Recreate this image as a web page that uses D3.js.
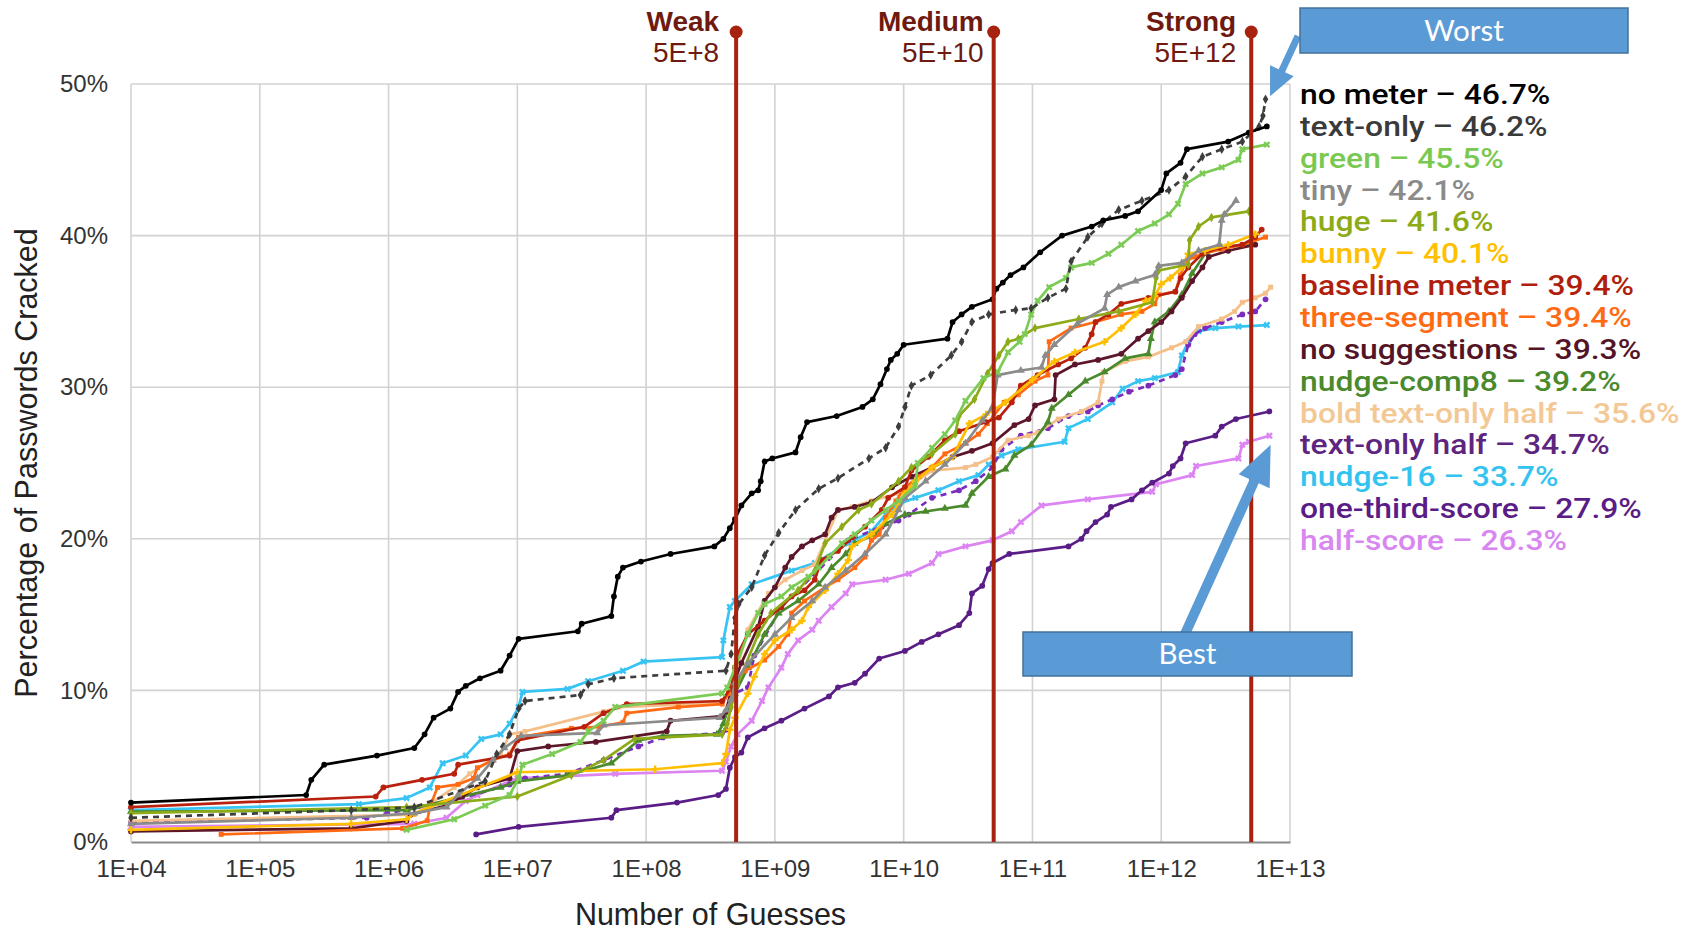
<!DOCTYPE html>
<html>
<head>
<meta charset="utf-8">
<script src="https://cdn.jsdelivr.net/npm/d3@7"></script>
<style>
  html, body { margin: 0; padding: 0; background: #fff; overflow: hidden; }
  svg { display: block; font-family: 'Liberation Sans', Arial, sans-serif; }
</style>
</head>
<body>
<svg id="chart" width="1694" height="931"></svg>
<script>
// each point: [log10(guesses), percent cracked]
const noMeter = [[4,2.6],[5.36,3.1],[5.40,4.1],[5.50,5.1],[5.91,5.7],[6.2,6.2],[6.28,7.1],[6.35,8.2],[6.48,8.8],[6.54,9.9],[6.6,10.3],[6.71,10.8],[6.87,11.3],[6.94,12.3],[7.01,13.4],[7.47,13.9],[7.50,14.4],[7.73,14.9],[7.75,16.2],[7.78,17.5],[7.82,18.1],[7.96,18.5],[8.19,19.0],[8.53,19.5],[8.6,20.0],[8.65,20.7],[8.69,21.3],[8.74,22.2],[8.82,23.0],[8.87,23.2],[8.89,23.8],[8.92,25.1],[8.98,25.3],[9.16,25.7],[9.2,26.7],[9.25,27.7],[9.48,28.1],[9.68,28.7],[9.76,29.2],[9.82,30.2],[9.87,31.2],[9.9,31.8],[9.95,32.2],[10.0,32.8],[10.34,33.2],[10.38,34.3],[10.45,34.8],[10.53,35.3],[10.69,35.8],[10.72,36.5],[10.77,36.9],[10.83,37.4],[10.93,37.9],[11.06,38.9],[11.23,40.0],[11.46,40.6],[11.55,41.0],[11.72,41.3],[11.82,41.6],[12.0,43.0],[12.04,44.1],[12.15,44.8],[12.2,45.7],[12.52,46.2],[12.68,46.8],[12.82,47.2]];
const textOnly = [[4,1.6],[5.71,2.1],[6.2,2.3],[6.75,4.0],[6.84,5.8],[6.94,7.1],[7.01,8.8],[7.06,9.3],[7.49,9.7],[7.55,10.4],[7.75,10.8],[8.62,11.3],[8.66,12.4],[8.69,14.8],[8.72,15.7],[8.82,16.8],[8.92,18.9],[9.03,20.4],[9.16,21.9],[9.34,23.3],[9.49,24.0],[9.73,25.3],[9.86,26.0],[9.96,27.4],[10.01,28.7],[10.06,30.1],[10.21,30.8],[10.37,32.1],[10.45,33.0],[10.53,34.3],[10.66,34.8],[10.87,35.1],[10.99,35.2],[11.12,35.9],[11.26,36.5],[11.3,38.3],[11.43,39.9],[11.54,40.8],[11.67,41.7],[11.85,42.3],[12.06,43.0],[12.19,43.9],[12.32,45.2],[12.47,45.7],[12.63,46.2],[12.76,47.2],[12.79,47.9],[12.81,49.0]];
const green = [[6.14,0.8],[6.51,1.5],[6.75,2.4],[6.94,3.1],[7.01,4.2],[7.04,5.1],[7.27,5.8],[7.49,6.6],[7.55,7.3],[7.67,8.0],[7.76,8.9],[8.59,9.8],[8.63,10.2],[8.69,11.5],[8.79,13.7],[8.87,15.1],[8.92,15.7],[9.05,16.2],[9.13,16.8],[9.26,17.5],[9.34,18.1],[9.42,18.8],[9.52,19.7],[9.62,20.3],[9.75,21.2],[9.86,21.9],[9.96,22.5],[10.09,23.5],[10.11,25.0],[10.22,26.0],[10.32,26.9],[10.4,27.8],[10.48,29.1],[10.62,30.6],[10.73,31.0],[10.81,32.3],[10.9,33.0],[10.94,33.5],[10.99,34.8],[11.04,35.7],[11.13,36.6],[11.26,37.2],[11.3,37.9],[11.46,38.2],[11.59,38.8],[11.69,39.4],[11.82,40.3],[11.95,40.8],[12.06,41.4],[12.13,42.1],[12.19,43.4],[12.32,44.1],[12.47,44.5],[12.6,45.0],[12.63,45.7],[12.82,46.0]];
const tiny = [[4,1.2],[5.71,1.6],[6.2,1.9],[6.45,2.3],[6.54,3.1],[6.69,4.2],[6.81,5.4],[6.9,6.2],[7.03,7.0],[7.62,7.2],[7.67,7.7],[8.57,8.2],[8.62,8.7],[8.66,9.4],[8.69,10.5],[8.79,11.8],[9.0,13.7],[9.13,14.8],[9.29,15.9],[9.39,16.8],[9.55,17.9],[9.7,19.0],[9.86,20.3],[9.96,21.9],[10.01,22.7],[10.17,23.8],[10.32,24.9],[10.48,26.3],[10.61,27.8],[10.69,28.7],[10.73,30.8],[10.91,31.1],[11.07,31.3],[11.1,32.1],[11.17,32.8],[11.35,34.2],[11.56,35.2],[11.58,36.1],[11.67,36.6],[11.8,37.0],[11.95,37.4],[11.98,38.0],[12.16,38.2],[12.29,39.0],[12.45,39.4],[12.47,41.0],[12.49,41.4],[12.58,42.3]];
const huge = [[4,1.9],[6.14,2.3],[7.0,3.0],[7.42,4.4],[7.67,5.4],[7.91,6.8],[8.59,7.1],[8.63,7.8],[8.66,8.9],[8.71,10.4],[8.87,13.7],[8.97,15.1],[9.18,16.6],[9.31,17.9],[9.39,19.7],[9.52,20.8],[9.65,21.9],[9.75,22.3],[9.96,23.8],[10.06,24.7],[10.22,25.6],[10.4,26.9],[10.43,28.1],[10.55,29.2],[10.65,30.9],[10.74,32.1],[10.81,33.0],[10.89,33.2],[11.02,33.9],[11.36,34.5],[11.67,35.0],[11.93,35.6],[11.96,37.2],[11.98,37.7],[12.21,38.1],[12.22,39.7],[12.29,40.6],[12.39,41.2],[12.68,41.6]];
const bunny = [[4,0.8],[5.71,1.2],[6.14,1.5],[6.2,1.9],[7.0,4.6],[8.07,4.8],[8.59,5.2],[8.62,5.8],[8.65,7.4],[8.69,8.2],[8.79,9.8],[8.84,10.9],[8.92,12.4],[9.0,13.3],[9.13,14.0],[9.21,14.6],[9.26,15.5],[9.39,16.6],[9.49,17.7],[9.57,18.6],[9.6,19.5],[9.75,20.3],[9.91,21.6],[10.01,23.0],[10.09,23.8],[10.22,24.7],[10.38,25.4],[10.51,27.6],[10.64,28.2],[10.79,29.0],[11.0,30.5],[11.17,31.7],[11.33,32.3],[11.56,33.0],[11.69,33.9],[11.8,34.8],[11.88,35.7],[11.95,36.0],[12.0,36.8],[12.07,37.2],[12.16,37.9],[12.21,38.8],[12.34,39.0],[12.52,39.4],[12.73,40.1]];
const baseline = [[4,2.3],[5.9,3.0],[5.96,3.6],[6.26,4.1],[6.51,4.5],[6.54,5.1],[6.94,5.7],[7.0,6.7],[7.52,7.6],[7.67,8.5],[7.85,9.1],[8.59,9.3],[8.66,10.2],[8.69,11.5],[8.71,12.4],[8.79,13.7],[8.92,14.6],[9.05,15.5],[9.13,16.2],[9.23,16.6],[9.31,17.3],[9.36,18.6],[9.49,19.2],[9.6,20.1],[9.7,20.8],[9.83,21.9],[9.88,22.7],[10.01,23.4],[10.06,24.5],[10.19,25.4],[10.32,26.5],[10.43,27.1],[10.64,27.7],[10.74,28.0],[10.84,29.0],[10.91,30.1],[11.04,30.8],[11.2,31.5],[11.3,31.9],[11.41,32.6],[11.46,33.5],[11.49,34.3],[11.59,34.8],[11.69,35.5],[11.9,35.9],[12.11,36.3],[12.15,37.2],[12.21,37.9],[12.32,38.8],[12.45,39.2],[12.63,39.4],[12.73,39.9],[12.78,40.4]];
const threeSegment = [[4.7,0.5],[6.11,0.9],[6.3,1.4],[6.32,2.3],[6.38,3.6],[6.54,3.8],[6.66,4.2],[6.69,4.9],[6.81,5.4],[6.94,5.8],[7.01,6.9],[7.42,7.5],[7.64,7.6],[7.82,7.9],[7.85,8.5],[8.25,8.9],[8.59,9.1],[8.64,9.8],[8.69,10.7],[8.77,11.3],[8.92,12.0],[9.03,12.9],[9.1,13.7],[9.13,15.1],[9.23,15.9],[9.39,16.8],[9.49,17.3],[9.62,18.1],[9.7,18.8],[9.75,19.9],[9.81,20.3],[9.86,21.4],[9.94,22.5],[10.01,23.4],[10.12,24.1],[10.22,24.7],[10.32,25.6],[10.48,26.3],[10.58,26.9],[10.65,27.6],[10.78,29.0],[10.89,29.5],[11.02,30.4],[11.12,30.8],[11.13,33.0],[11.3,33.9],[11.49,34.3],[11.69,34.8],[11.85,35.0],[11.95,35.5],[11.98,36.1],[12.11,36.3],[12.15,37.4],[12.19,38.3],[12.26,38.6],[12.32,38.8],[12.47,39.1],[12.63,39.4],[12.81,39.9]];
const noSuggestions = [[4,0.7],[5.71,0.9],[6.14,1.4],[6.17,1.8],[6.45,2.4],[6.57,3.0],[6.69,3.6],[6.94,4.2],[7.0,6.0],[7.24,6.3],[7.61,6.6],[8.16,7.3],[8.19,8.0],[8.59,8.3],[8.62,8.6],[8.66,10.0],[8.74,11.8],[8.87,14.2],[8.92,15.9],[9.0,16.8],[9.08,18.1],[9.13,18.8],[9.21,19.5],[9.29,19.9],[9.39,20.3],[9.44,21.4],[9.49,21.9],[9.62,22.1],[9.75,22.4],[9.91,23.4],[10.06,24.1],[10.22,24.7],[10.38,25.4],[10.53,25.8],[10.69,26.3],[10.86,27.5],[10.97,27.9],[11.02,28.8],[11.17,29.2],[11.18,30.8],[11.33,31.5],[11.51,31.8],[11.69,32.2],[11.82,33.2],[11.9,33.7],[12.0,34.3],[12.08,35.0],[12.16,35.9],[12.24,37.0],[12.32,37.9],[12.37,38.6],[12.52,39.0],[12.73,39.4]];
const nudgeComp8 = [[4,2.0],[6.14,2.1],[6.87,3.6],[7.0,4.0],[7.39,4.4],[7.73,5.2],[7.94,6.7],[8.13,7.0],[8.55,7.1],[8.6,7.8],[8.64,8.9],[8.69,9.8],[8.79,11.5],[8.92,13.7],[9.03,15.1],[9.18,15.9],[9.34,17.0],[9.44,18.1],[9.55,19.0],[9.62,19.7],[9.78,20.3],[9.86,21.0],[10.01,21.6],[10.17,21.8],[10.32,22.0],[10.48,22.2],[10.53,23.0],[10.66,24.1],[10.79,24.6],[10.86,25.5],[10.99,26.2],[11.12,27.7],[11.15,28.6],[11.28,29.5],[11.41,30.4],[11.56,31.0],[11.72,31.9],[11.9,32.2],[11.92,33.2],[11.95,34.3],[12.06,35.0],[12.16,36.1],[12.24,37.5],[12.34,38.8],[12.47,39.2],[12.68,39.4]];
const boldTextHalf = [[4,1.4],[6.2,1.8],[6.51,3.6],[6.63,4.5],[6.87,5.8],[6.94,7.1],[7.06,7.3],[7.67,8.6],[7.79,8.9],[8.59,9.2],[8.66,10.0],[8.79,14.0],[8.95,16.4],[9.08,17.3],[9.21,17.9],[9.31,18.3],[9.49,21.9],[9.6,22.1],[9.75,22.5],[9.96,23.0],[10.22,24.5],[10.48,24.7],[10.56,24.9],[10.69,25.4],[10.81,26.5],[10.97,26.8],[11.04,27.0],[11.2,27.9],[11.38,28.4],[11.51,29.0],[11.54,30.4],[11.55,31.0],[11.72,31.7],[11.9,32.0],[12.08,32.6],[12.19,33.0],[12.29,34.0],[12.47,34.5],[12.57,35.0],[12.63,35.6],[12.73,35.9],[12.81,36.2],[12.85,36.6]];
const textHalf = [[4,1.3],[5.83,1.6],[5.99,1.9],[6.45,2.6],[6.94,3.8],[7.06,4.2],[7.39,4.5],[7.67,5.4],[7.94,6.3],[8.13,6.9],[8.59,7.2],[8.62,7.4],[8.69,9.8],[8.79,10.2],[8.84,12.3],[9.05,15.5],[9.31,17.7],[9.57,19.9],[9.83,20.8],[9.96,21.2],[10.04,21.6],[10.22,22.7],[10.43,23.2],[10.56,23.8],[10.69,24.7],[10.76,25.9],[10.91,26.8],[11.12,27.3],[11.28,28.1],[11.43,28.4],[11.51,28.8],[11.62,29.2],[11.75,29.7],[11.9,30.1],[12.11,30.8],[12.16,31.2],[12.21,32.8],[12.26,33.5],[12.34,33.9],[12.47,34.3],[12.63,34.8],[12.73,35.0],[12.81,35.8]];
const nudge16 = [[4,2.1],[5.77,2.5],[6.14,2.9],[6.32,3.6],[6.42,5.2],[6.6,5.7],[6.72,6.8],[6.87,7.1],[6.94,7.8],[7.01,8.9],[7.04,9.9],[7.39,10.1],[7.55,10.6],[7.82,11.3],[7.98,11.9],[8.59,12.2],[8.6,13.3],[8.65,15.5],[8.69,15.9],[8.82,17.0],[9.13,17.9],[9.31,18.4],[9.57,19.7],[9.75,20.5],[9.86,21.6],[9.96,22.3],[10.09,22.7],[10.27,23.2],[10.43,23.8],[10.58,24.2],[10.66,24.9],[10.76,25.5],[10.89,25.9],[11.25,26.4],[11.28,27.3],[11.43,27.9],[11.62,29.0],[11.7,29.9],[11.82,30.4],[11.95,30.6],[12.13,31.0],[12.16,32.1],[12.21,33.0],[12.29,33.7],[12.42,33.9],[12.6,34.0],[12.82,34.1]];
const oneThird = [[6.68,0.5],[7.01,1.0],[7.73,1.6],[7.77,2.1],[8.24,2.6],[8.56,3.1],[8.62,3.5],[8.65,4.9],[8.69,5.6],[8.74,5.9],[8.79,6.9],[8.92,7.5],[9.05,8.0],[9.23,8.8],[9.42,9.6],[9.49,10.2],[9.62,10.5],[9.7,11.1],[9.81,12.1],[10.01,12.6],[10.14,13.2],[10.27,13.7],[10.43,14.3],[10.51,15.1],[10.53,16.4],[10.61,16.9],[10.66,18.0],[10.69,18.4],[10.82,19.0],[11.28,19.5],[11.38,20.0],[11.42,20.5],[11.49,21.1],[11.58,21.6],[11.61,22.1],[11.77,22.6],[11.85,23.2],[11.93,23.7],[12.06,24.3],[12.09,24.8],[12.15,25.3],[12.19,26.3],[12.42,26.8],[12.47,27.4],[12.58,27.9],[12.84,28.4]];
const halfScore = [[4,1.0],[6.2,1.2],[6.45,1.6],[6.6,2.7],[6.69,3.1],[6.94,4.0],[7.0,4.2],[7.76,4.5],[8.59,4.7],[8.62,5.3],[8.66,6.3],[8.71,7.1],[8.82,8.0],[8.9,9.3],[8.95,10.2],[9.05,11.5],[9.1,12.4],[9.18,13.3],[9.29,14.0],[9.34,14.6],[9.44,15.5],[9.55,16.4],[9.6,17.0],[9.86,17.3],[10.04,17.7],[10.22,18.4],[10.27,19.0],[10.48,19.5],[10.69,19.9],[10.84,20.5],[10.91,21.1],[11.07,22.2],[11.43,22.6],[11.93,23.1],[11.96,23.6],[12.24,24.2],[12.27,24.8],[12.6,25.3],[12.63,26.2],[12.68,26.4],[12.84,26.8]];

const seriesData = [noMeter, textOnly, green, tiny, huge, bunny, baseline, threeSegment,
  noSuggestions, nudgeComp8, boldTextHalf, textHalf, nudge16, oneThird, halfScore];
const seriesNames = ['no meter', 'text-only', 'green', 'tiny', 'huge', 'bunny', 'baseline meter',
  'three-segment', 'no suggestions', 'nudge-comp8', 'bold text-only half', 'text-only half',
  'nudge-16', 'one-third-score', 'half-score'];
const legendValues = [46.7, 46.2, 45.5, 42.1, 41.6, 40.1, 39.4, 39.4, 39.3, 39.2, 35.6, 34.7, 33.7, 27.9, 26.3];
const seriesColors = ['#000000', '#3d3d3d', '#7ccb55', '#8b8b8b', '#8dab19', '#ffbf00', '#b9210e',
  '#ff6a12', '#5c1529', '#4a8a2d', '#f5bf8a', '#7a2cbf', '#38c4f2', '#5a1c86', '#dc84f2'];
const legendColors = ['#000000', '#3a3a3a', '#79c950', '#8a8a8a', '#8dab19', '#ffc000', '#b01f0d',
  '#ff6a12', '#541426', '#4a8a2d', '#f3c894', '#5e2580', '#33c3f0', '#5a1c86', '#d987f0'];
const seriesMarkers = ['circle', 'diamond', 'x', 'triangle', 'diamond', 'plus', 'circle',
  'square', 'circle', 'triangle', 'square', 'circle', 'x', 'circle', 'x'];
const seriesDashed = [false, true, false, false, false, false, false, false, false, false, false, true, false, false, false];

const xTicks = [1e4, 1e5, 1e6, 1e7, 1e8, 1e9, 1e10, 1e11, 1e12, 1e13];
const yTicks = [0, 10, 20, 30, 40, 50];
const thresholdNames = ['Weak', 'Medium', 'Strong'];
const thresholdGuesses = [5e8, 5e10, 5e12];
const thresholdLabels = ['5E+8', '5E+10', '5E+12'];

const svg = d3.select('#chart');
const plot = { left: 131, right: 1290, top: 84, bottom: 842 };
const labelGap = [17, 10, 15];

const x = d3.scaleLog().domain([1e4, 1e13]).range([plot.left, plot.right]);
const y = d3.scaleLinear().domain([0, 50]).range([plot.bottom, plot.top]);

// grid
const grid = svg.append('g').attr('class', 'grid');
grid.selectAll('line.v').data(xTicks).enter().append('line')
  .attr('x1', d => x(d)).attr('x2', d => x(d))
  .attr('y1', plot.top).attr('y2', plot.bottom)
  .attr('stroke', '#d2d2d2').attr('stroke-width', 1.6);
grid.selectAll('line.h').data(yTicks.slice(1)).enter().append('line')
  .attr('x1', plot.left).attr('x2', plot.right)
  .attr('y1', d => y(d)).attr('y2', d => y(d))
  .attr('stroke', '#d2d2d2').attr('stroke-width', 1.6);

// axes
const xAxis = d3.axisBottom(x).tickValues(xTicks).tickSize(0).tickPadding(18)
  .tickFormat(d => '1E+' + String(Math.round(Math.log10(d))).padStart(2, '0'));
const gx = svg.append('g').attr('transform', `translate(0,${plot.bottom})`).call(xAxis);
gx.select('.domain').attr('stroke', '#8a8a8a').attr('stroke-width', 2);
gx.selectAll('text').attr('font-size', 24).attr('fill', '#333')
  .attr('font-family', "'Liberation Sans', Arial, sans-serif");

const yAxis = d3.axisLeft(y).tickValues(yTicks).tickSize(0).tickPadding(23).tickFormat(d => d + '%');
const gy = svg.append('g').attr('transform', `translate(${plot.left},0)`).call(yAxis);
gy.select('.domain').remove();
gy.selectAll('text').attr('font-size', 24).attr('fill', '#333')
  .attr('font-family', "'Liberation Sans', Arial, sans-serif");

svg.append('text')
  .attr('x', (plot.left + plot.right) / 2).attr('y', 925)
  .attr('text-anchor', 'middle').attr('font-size', 30.5).attr('fill', '#222')
  .text('Number of Guesses');
svg.append('text')
  .attr('transform', `translate(37,${(plot.top + plot.bottom) / 2}) rotate(-90)`)
  .attr('text-anchor', 'middle').attr('font-size', 30.5).attr('fill', '#222')
  .text('Percentage of Passwords Cracked');

// series lines
const line = d3.line().x(d => x(Math.pow(10, d[0]))).y(d => y(d[1]));
const symbolFor = {
  circle: d3.symbol().type(d3.symbolCircle).size(26),
  diamond: d3.symbol().type(d3.symbolDiamond).size(26),
  triangle: d3.symbol().type(d3.symbolTriangle).size(28),
  square: d3.symbol().type(d3.symbolSquare).size(24),
  plus: d3.symbol().type(d3.symbolCross).size(30),
  x: d3.symbol().type(d3.symbolCross).size(30)
};

const order = d3.range(seriesData.length).reverse();
const series = svg.append('g').attr('class', 'series');
order.forEach(i => {
  const g = series.append('g');
  g.append('path')
    .datum(seriesData[i])
    .attr('fill', 'none')
    .attr('stroke', seriesColors[i])
    .attr('stroke-width', 2.7)
    .attr('stroke-linejoin', 'round')
    .attr('stroke-dasharray', seriesDashed[i] ? '6,5' : null)
    .attr('d', line);
  g.selectAll('path.m').data(seriesData[i]).enter().append('path')
    .attr('class', 'm')
    .attr('d', symbolFor[seriesMarkers[i]])
    .attr('fill', seriesColors[i])
    .attr('transform', d => `translate(${x(Math.pow(10, d[0]))},${y(d[1])})` +
      (seriesMarkers[i] === 'x' ? ' rotate(45)' : ''));
});

// threshold lines
const th = svg.append('g').attr('class', 'thresholds');
thresholdGuesses.forEach((t, i) => {
  th.append('line')
    .attr('x1', x(t)).attr('x2', x(t))
    .attr('y1', 32).attr('y2', plot.bottom)
    .attr('stroke', '#a8230f').attr('stroke-width', 4);
  th.append('circle').attr('cx', x(t)).attr('cy', 32).attr('r', 6.5).attr('fill', '#a8230f');
  th.append('text')
    .attr('x', x(t) - labelGap[i]).attr('y', 31).attr('text-anchor', 'end')
    .attr('font-size', 28).attr('font-weight', 'bold').attr('fill', '#6e1a10')
    .text(thresholdNames[i]);
  th.append('text')
    .attr('x', x(t) - labelGap[i]).attr('y', 62).attr('text-anchor', 'end')
    .attr('font-size', 28).attr('fill', '#6e1a10')
    .text(thresholdLabels[i]);
});

// legend: rows are packed tightly, so the glyphs are widened instead of enlarged
const legend = svg.append('g').attr('class', 'legend')
  .attr('font-family', "Roboto, 'Liberation Sans', sans-serif")
  .attr('font-weight', 500).attr('font-size', 27);
seriesNames.forEach((name, i) => {
  legend.append('text')
    .attr('transform', `translate(1300,${104 + i * 31.86}) scale(1.18,1)`)
    .attr('fill', legendColors[i])
    .text(name + ' \u2013 ' + legendValues[i].toFixed(1) + '%');
});

// callouts
function arrow(x1, y1, x2, y2, sw, hw, hl) {
  const dx = x2 - x1, dy = y2 - y1, len = Math.hypot(dx, dy);
  const ux = dx / len, uy = dy / len, px = -uy, py = ux;
  const bx = x2 - ux * hl, by = y2 - uy * hl;
  const pts = [
    [x1 + px * sw / 2, y1 + py * sw / 2],
    [bx + px * sw / 2, by + py * sw / 2],
    [bx + px * hw / 2, by + py * hw / 2],
    [x2, y2],
    [bx - px * hw / 2, by - py * hw / 2],
    [bx - px * sw / 2, by - py * sw / 2],
    [x1 - px * sw / 2, y1 - py * sw / 2]
  ];
  return 'M' + pts.map(p => p.join(',')).join('L') + 'Z';
}

const callouts = svg.append('g').attr('class', 'callouts');
callouts.append('path')
  .attr('d', arrow(1298, 36, x(Math.pow(10, 12.845)), y(49.2), 7, 26, 28))
  .attr('fill', '#5b9bd5');
callouts.append('path')
  .attr('d', arrow(1185, 634, x(Math.pow(10, 12.85)), y(26.2), 10, 34, 40))
  .attr('fill', '#5b9bd5');

[['Worst', 1300, 8, 328, 45], ['Best', 1023, 632, 329, 44]].forEach(b => {
  callouts.append('rect')
    .attr('x', b[1]).attr('y', b[2]).attr('width', b[3]).attr('height', b[4])
    .attr('fill', '#5b9bd5').attr('stroke', '#41719c').attr('stroke-width', 1.5);
  callouts.append('text')
    .attr('x', b[1] + b[3] / 2).attr('y', b[2] + b[4] / 2 + 10)
    .attr('text-anchor', 'middle').attr('font-family', "Lato, 'Open Sans', sans-serif")
    .attr('font-size', 29.5).attr('fill', '#fff')
    .text(b[0]);
});
</script>
</body>
</html>
